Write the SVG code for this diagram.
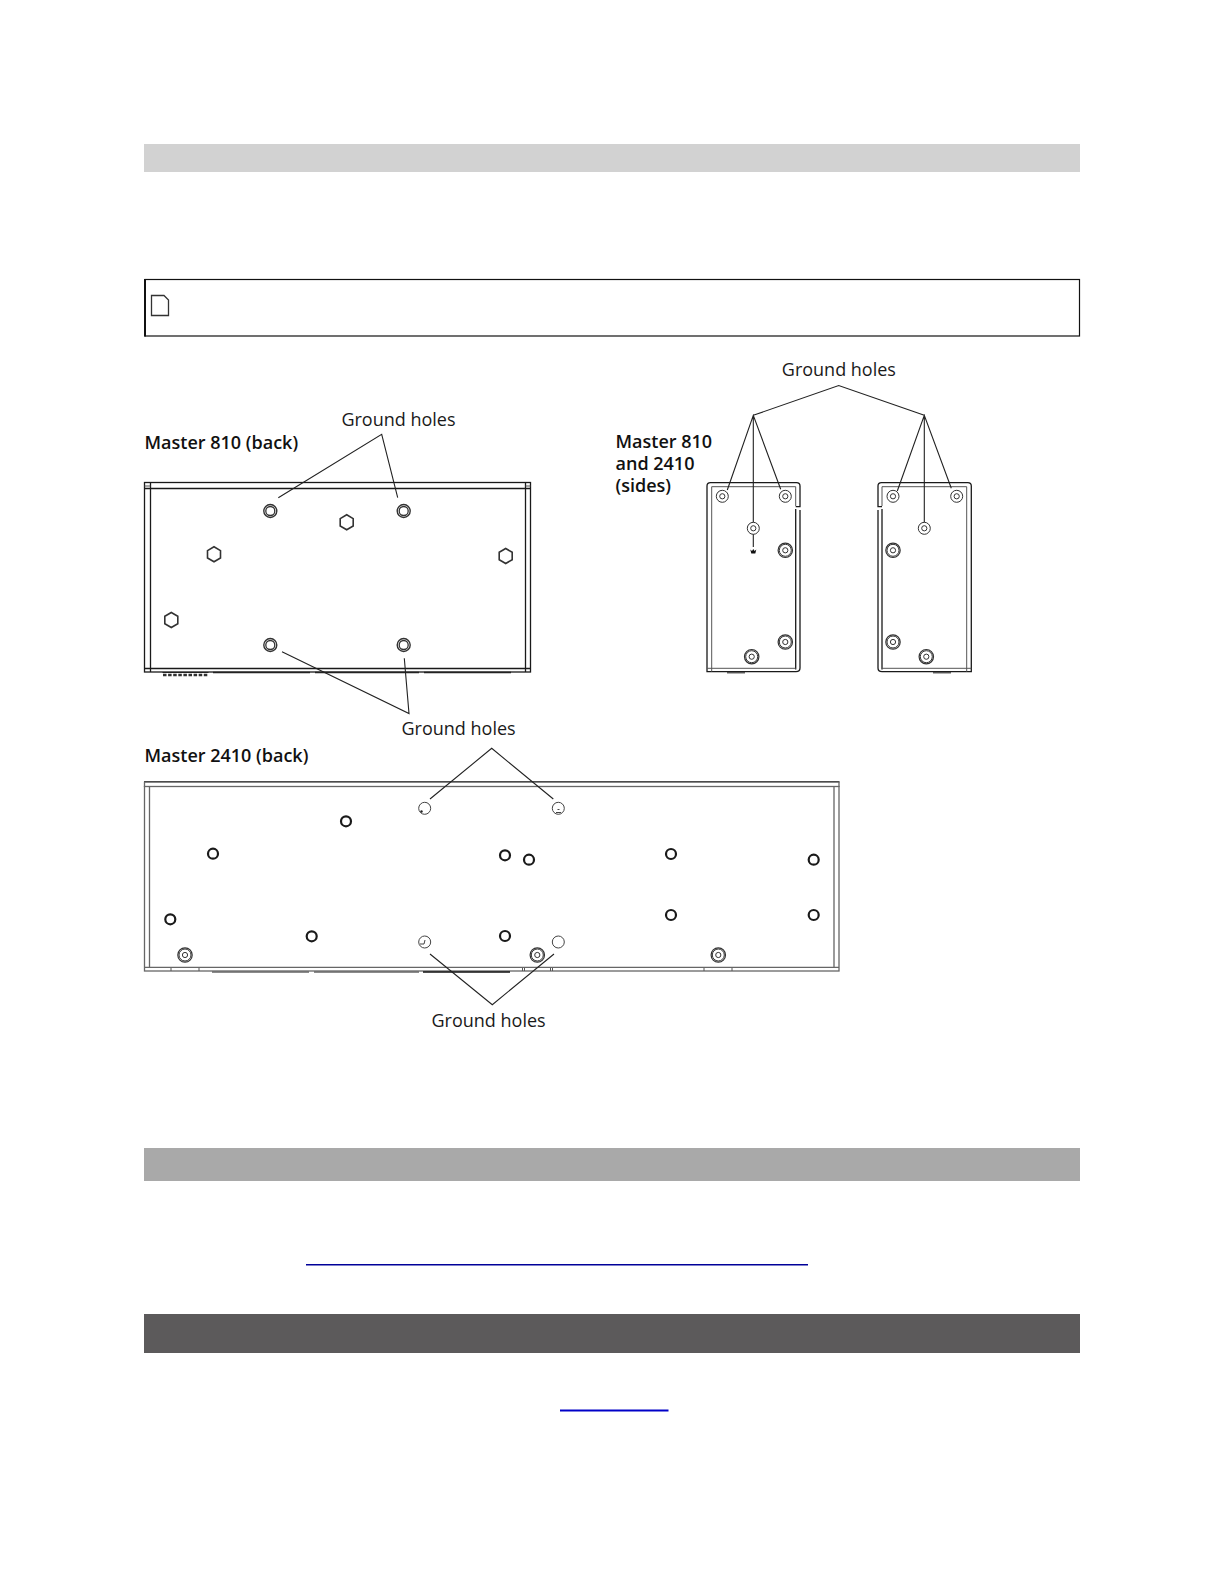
<svg xmlns="http://www.w3.org/2000/svg" xmlns:xlink="http://www.w3.org/1999/xlink" width="1224" height="1584" viewBox="0 0 1224 1584">
<style>
text{font-family:"Open Sans","Noto Sans","Liberation Sans",sans-serif;font-size:18px;fill:#1a1a1a}
.b{font-weight:600;fill:#111}
.l{fill:none;stroke:#222;stroke-width:1.1}
.k{fill:none;stroke:#1a1a1a;stroke-width:1.3}
.g{fill:none;stroke:#666;stroke-width:1.3}
.t{fill:none;stroke:#555;stroke-width:1}
</style>
<defs>
<g id="hole"><circle r="6.500" fill="none" stroke="#333" stroke-width="1.400"/><circle r="4.500" fill="none" stroke="#333" stroke-width="1.300"/></g>
<polygon id="hex" points="0,-7.500 6.500,-3.700 6.500,3.700 0,7.500 -6.500,3.700 -6.500,-3.700" fill="none" stroke="#333" stroke-width="1.600"/>
<g id="small"><circle r="6" fill="none" stroke="#333" stroke-width="1"/><circle r="2.600" fill="none" stroke="#333" stroke-width="1"/></g>
<g id="tri"><circle r="7.200" fill="none" stroke="#333" stroke-width="1.200"/><circle r="6" fill="none" stroke="#333" stroke-width="1"/><circle r="2.600" fill="none" stroke="#333" stroke-width="1"/></g>
<circle id="bold" r="5" fill="none" stroke="#1a1a1a" stroke-width="2.200"/>
<circle id="thin" r="6" fill="none" stroke="#444" stroke-width="1"/>
</defs>
<rect width="1224" height="1584" fill="#fff"/>
<g id="bars">
<rect x="144" y="144" width="936" height="28" fill="#d2d2d2"/>
<rect x="144" y="1148" width="936" height="33" fill="#a9a9a9"/>
<rect x="144" y="1314" width="936" height="39" fill="#5c5a5b"/>
<rect x="306" y="1264" width="502" height="1.500" fill="#000099"/>
<rect x="560" y="1409.500" width="108.500" height="2" fill="#0000c8"/>
</g>
<g id="note">
<rect x="145" y="279.500" width="934.500" height="56.500" fill="none" stroke="#111" stroke-width="1.200"/>
<line x1="145" y1="279" x2="145" y2="336.500" stroke="#111" stroke-width="2"/>
<path d="M151.500 295.500H164L168.500 300V315.500H151.500Z" fill="none" stroke="#333" stroke-width="1.300"/>
</g>
<g id="master810back">
<text class="b" x="144.500" y="448.500">Master 810 (back)</text>
<rect x="144.500" y="482.500" width="386" height="189.500" class="k"/>
<path d="M144.500 488.500H530.500M144.500 668.500H530.500M150.500 482.500V672M525.500 482.500V672" class="k"/>
<path d="M144.500 486H150.500M525.500 486H530.500" class="t"/>
<path d="M213 672.500H310M315 672.500H419M424 672.500H511" stroke="#222" stroke-width="1.600" fill="none"/>
<path d="M162.500 672.500H208.500" stroke="#222" stroke-width="1"/>
<path d="M163 675H208" stroke="#333" stroke-width="2.500" stroke-dasharray="3.500 1.600"/>
<use xlink:href="#hole" x="270.300" y="511"/><use xlink:href="#hole" x="403.700" y="511"/>
<use xlink:href="#hole" x="270.300" y="645"/><use xlink:href="#hole" x="403.700" y="645"/>
<use xlink:href="#hex" x="346.700" y="522.300"/><use xlink:href="#hex" x="214" y="554.300"/>
<use xlink:href="#hex" x="505.700" y="556"/><use xlink:href="#hex" x="171.300" y="620"/>
</g>
<g id="sideleft">
<text class="b" x="615.500" y="448">Master 810</text>
<text class="b" x="615.500" y="470">and 2410</text>
<text class="b" x="615.500" y="491.500">(sides)</text>
<path d="M707 486Q707 482.700 710.500 482.700H796.500Q800 482.700 800 486V506.700H795.700" class="k"/>
<path d="M795.700 509V669.500M800 510V668Q800 671.700 796 671.700H707V486" class="k"/>
<path d="M711.700 671.700V486.700H795.700V506" class="t"/>
<path d="M707 668.300H795.700" class="t"/>
<path d="M727 672.700H745" stroke="#555" stroke-width="1.500"/>
<use xlink:href="#small" x="722.300" y="496.300"/><use xlink:href="#small" x="785.300" y="496.300"/><use xlink:href="#small" x="753.300" y="528.300"/>
<use xlink:href="#tri" x="785.300" y="550.300"/><use xlink:href="#tri" x="785.300" y="642"/><use xlink:href="#tri" x="751.700" y="656.700"/>
<path d="M750.300 549.500L752 551 753.300 549 754.600 551 756.300 549.500 755.300 553.500H751.300Z" fill="#111"/>
</g>
<g id="sideright">
<path d="M971.300 486Q971.300 482.700 967.800 482.700H881.500Q878 482.700 878 486V506.700H882" class="k"/>
<path d="M882 509V669.500M878 510V668Q878 671.700 882 671.700H971.300V486" class="k"/>
<path d="M966.700 671.700V486.700H882V506" class="t"/>
<path d="M971.300 668.300H882" class="t"/>
<path d="M933 672.700H951" stroke="#555" stroke-width="1.500"/>
<use xlink:href="#small" x="893" y="496.300"/><use xlink:href="#small" x="956.700" y="496.300"/><use xlink:href="#small" x="924.300" y="528.300"/>
<use xlink:href="#tri" x="893" y="550.300"/><use xlink:href="#tri" x="893" y="642"/><use xlink:href="#tri" x="926.300" y="656.700"/>
</g>
<g id="master2410back">
<text class="b" x="144.500" y="762">Master 2410 (back)</text>
<rect x="144.500" y="786.500" width="694.500" height="184.500" class="g"/>
<line x1="144" y1="781.800" x2="839.500" y2="781.800" stroke="#111" stroke-width="1.200"/>
<path d="M144.500 781.800V787M839 781.800V787" class="g"/>
<path d="M149.500 786.500V967.300M834 786.500V967.300M144.500 967.300H839" class="g"/>
<path d="M212 972H309M314 972H419" stroke="#666" stroke-width="1.300" fill="none"/>
<path d="M423 972H510" stroke="#111" stroke-width="1.300" fill="none"/>
<path d="M171 968V971M199 968V971M522.500 968V971M524.500 968V971M550.500 968V971M552.500 968V971M704 968V971M732 968V971" class="t"/>
<use xlink:href="#bold" x="346" y="821.300"/><use xlink:href="#bold" x="213" y="853.700"/><use xlink:href="#bold" x="170.300" y="919.300"/>
<use xlink:href="#bold" x="311.700" y="936.300"/><use xlink:href="#bold" x="505" y="855.300"/><use xlink:href="#bold" x="505" y="936"/>
<use xlink:href="#bold" x="529" y="859.700"/><use xlink:href="#bold" x="671" y="854"/><use xlink:href="#bold" x="813.700" y="859.700"/>
<use xlink:href="#bold" x="671" y="915"/><use xlink:href="#bold" x="813.700" y="915"/>
<use xlink:href="#thin" x="424.700" y="808.300"/><use xlink:href="#thin" x="558.300" y="808.300"/>
<use xlink:href="#thin" x="424.700" y="942"/><use xlink:href="#thin" x="558.300" y="942"/>
<circle cx="421.500" cy="811.500" r="1.200" fill="#222"/>
<path d="M556 812.500H561M557.500 809.500H559.500" stroke="#444" stroke-width="1"/>
<path d="M420 944H424L425 940" fill="none" stroke="#444" stroke-width="1"/>
<use xlink:href="#tri" x="185" y="955"/><use xlink:href="#tri" x="537.300" y="955"/><use xlink:href="#tri" x="718.300" y="955"/>
</g>
<g id="connectors">
<path d="M278.300 497.700L381.700 434.300 397.700 497.700" class="l"/>
<path d="M282 651.700L409 713.500 404.300 658.300" class="l"/>
<path d="M753.300 415.300L838.700 385.500 924.300 415.300" class="l"/>
<path d="M727.300 490L753.300 415.300 780.700 489.300M753.300 415.300V522.300M753.300 534.300V547" class="l"/>
<path d="M897.300 491L924.300 415.300 951.300 488.300M924.300 415.300V522.300" class="l"/>
<path d="M430 799L491.700 748.300 553.300 799" class="l"/>
<path d="M430 954L492.300 1004.700 554 954" class="l"/>
</g>
<g id="labels">
<text x="341.400" y="425.700">Ground holes</text>
<text x="781.800" y="376.400">Ground holes</text>
<text x="401.500" y="735.300">Ground holes</text>
<text x="431.500" y="1027">Ground holes</text>
</g>
</svg>
